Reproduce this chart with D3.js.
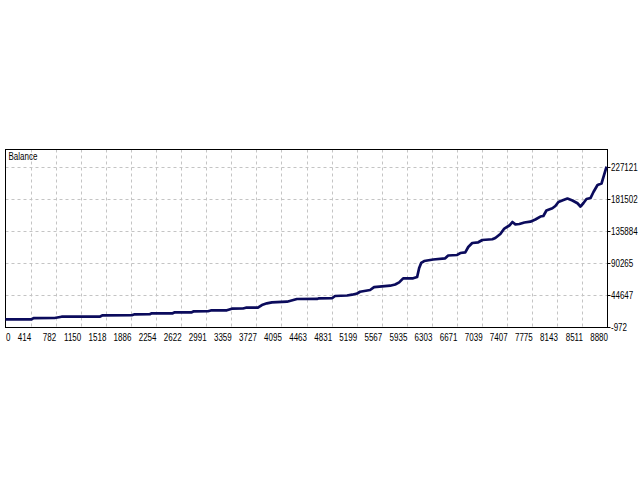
<!DOCTYPE html>
<html>
<head>
<meta charset="utf-8">
<script src="https://cdn.jsdelivr.net/npm/d3@7"></script>
<style>
  body { margin: 0; background: #fff; }
  text { font-family: "Liberation Sans", sans-serif; font-size: 10px; fill: #000; }
</style>
</head>
<body>
<div class="container"></div>
<script>
// trade number / balance
const trades = [0, 384, 414, 724, 827, 1389, 1433, 1862, 1906, 2128, 2157, 2467, 2497, 2748, 2778, 2985,
  3029, 3265, 3339, 3502, 3546, 3723, 3782, 3856, 3930, 4152, 4300, 4595, 4625, 4817, 4861, 5038,
  5112, 5186, 5230, 5378, 5437, 5674, 5748, 5807, 5866, 6013, 6072, 6102, 6132, 6176, 6265, 6309,
  6486, 6530, 6663, 6708, 6782, 6826, 6885, 6974, 7033, 7181, 7225, 7299, 7358, 7432, 7477, 7521,
  7580, 7654, 7742, 7816, 7890, 7934, 7979, 8067, 8111, 8156, 8230, 8289, 8363, 8437, 8481, 8526,
  8570, 8629, 8673, 8733, 8792, 8821, 8866];
const balance = [10500, 10700, 12500, 12600, 14400, 14500, 16400, 16500, 17800, 17900, 19250, 19300, 20700, 20700, 22100, 22200,
  23300, 23550, 25800, 26100, 27250, 27300, 31100, 33500, 34950, 35800, 39650, 39700, 40650, 40700, 43900, 44650,
  45800, 47500, 50000, 52500, 56700, 58600, 60300, 63400, 69100, 69200, 71000, 83800, 91000, 93800, 95300, 96000,
  97700, 101700, 102400, 105200, 106200, 113800, 119500, 120500, 123800, 124800, 126600, 132300, 140100, 144400, 149400, 146100,
  146600, 148700, 149900, 153000, 157200, 158000, 165800, 169000, 172200, 177900, 180800, 182900, 180100, 176100, 171500, 176500,
  182200, 183600, 192200, 202200, 204300, 213600, 228500];

const xLabels = ["0", "414", "782", "1150", "1518", "1886", "2254", "2622", "2991", "3359", "3727", "4095", "4463",
  "4831", "5199", "5567", "5935", "6303", "6671", "7039", "7407", "7775", "8143", "8511", "8880"];
const yTicks = [-972, 44647, 90265, 135884, 181502, 227121];

const left = 5.5, right = 607.5, bottom = 327.5, frameTop = 149.5;
const squeeze = 0.8; // the original font is narrow

const x = d3.scaleLinear().domain([0, 8880]).range([left, right]);
const y = d3.scaleLinear().domain([-972, 227121]).range([bottom, 167.5]);

const svg = d3.select(".container").append("svg")
  .attr("width", 640).attr("height", 480);

const xGrid = d3.range(xLabels.length).map(k => k * 8880 / (xLabels.length - 1));

// grid
svg.append("g").selectAll("line").data(xGrid.slice(1, -1)).join("line")
  .attr("x1", d => Math.round(x(d)) + 0.5).attr("x2", d => Math.round(x(d)) + 0.5)
  .attr("y1", frameTop).attr("y2", bottom)
  .attr("stroke", "#c4c4c4").attr("stroke-dasharray", "3,3");

svg.append("g").selectAll("line").data(yTicks.slice(1)).join("line")
  .attr("x1", left).attr("x2", right)
  .attr("y1", d => Math.round(y(d) - 0.5) + 0.5).attr("y2", d => Math.round(y(d) - 0.5) + 0.5)
  .attr("stroke", "#c4c4c4").attr("stroke-dasharray", "3,3");

// frame
svg.append("rect")
  .attr("x", left).attr("y", frameTop)
  .attr("width", right - left).attr("height", bottom - frameTop)
  .attr("fill", "none").attr("stroke", "#000");

// balance line
const line = d3.line().x((d, i) => x(trades[i])).y(d => y(d));
svg.append("path")
  .datum(balance)
  .attr("d", line)
  .attr("fill", "none")
  .attr("stroke", "#0b0b5c")
  .attr("stroke-width", 2.7)
  .attr("stroke-linejoin", "round");

// y axis on the right
const yAxis = svg.append("g");
yAxis.selectAll("line").data(yTicks).join("line")
  .attr("x1", right).attr("x2", right + 3)
  .attr("y1", d => Math.round(y(d) - 0.5) + 0.5).attr("y2", d => Math.round(y(d) - 0.5) + 0.5)
  .attr("stroke", "#000");
yAxis.selectAll("text").data(yTicks).join("text")
  .attr("transform", d => `translate(${right + 3.5},${y(d) + 3.5}) scale(${squeeze},1)`)
  .text(d => d);

// x labels, right aligned on their grid line
svg.append("g").selectAll("text").data(xGrid).join("text")
  .attr("transform", (d, i) => `translate(${i === 0 ? x(d) + 0.5 : x(d) + 0.5},341) scale(${squeeze},1)`)
  .attr("text-anchor", (d, i) => i === 0 ? "start" : "end")
  .text((d, i) => xLabels[i]);

svg.append("text")
  .attr("transform", `translate(8.5,160) scale(${squeeze},1)`)
  .text("Balance");
</script>
</body>
</html>
